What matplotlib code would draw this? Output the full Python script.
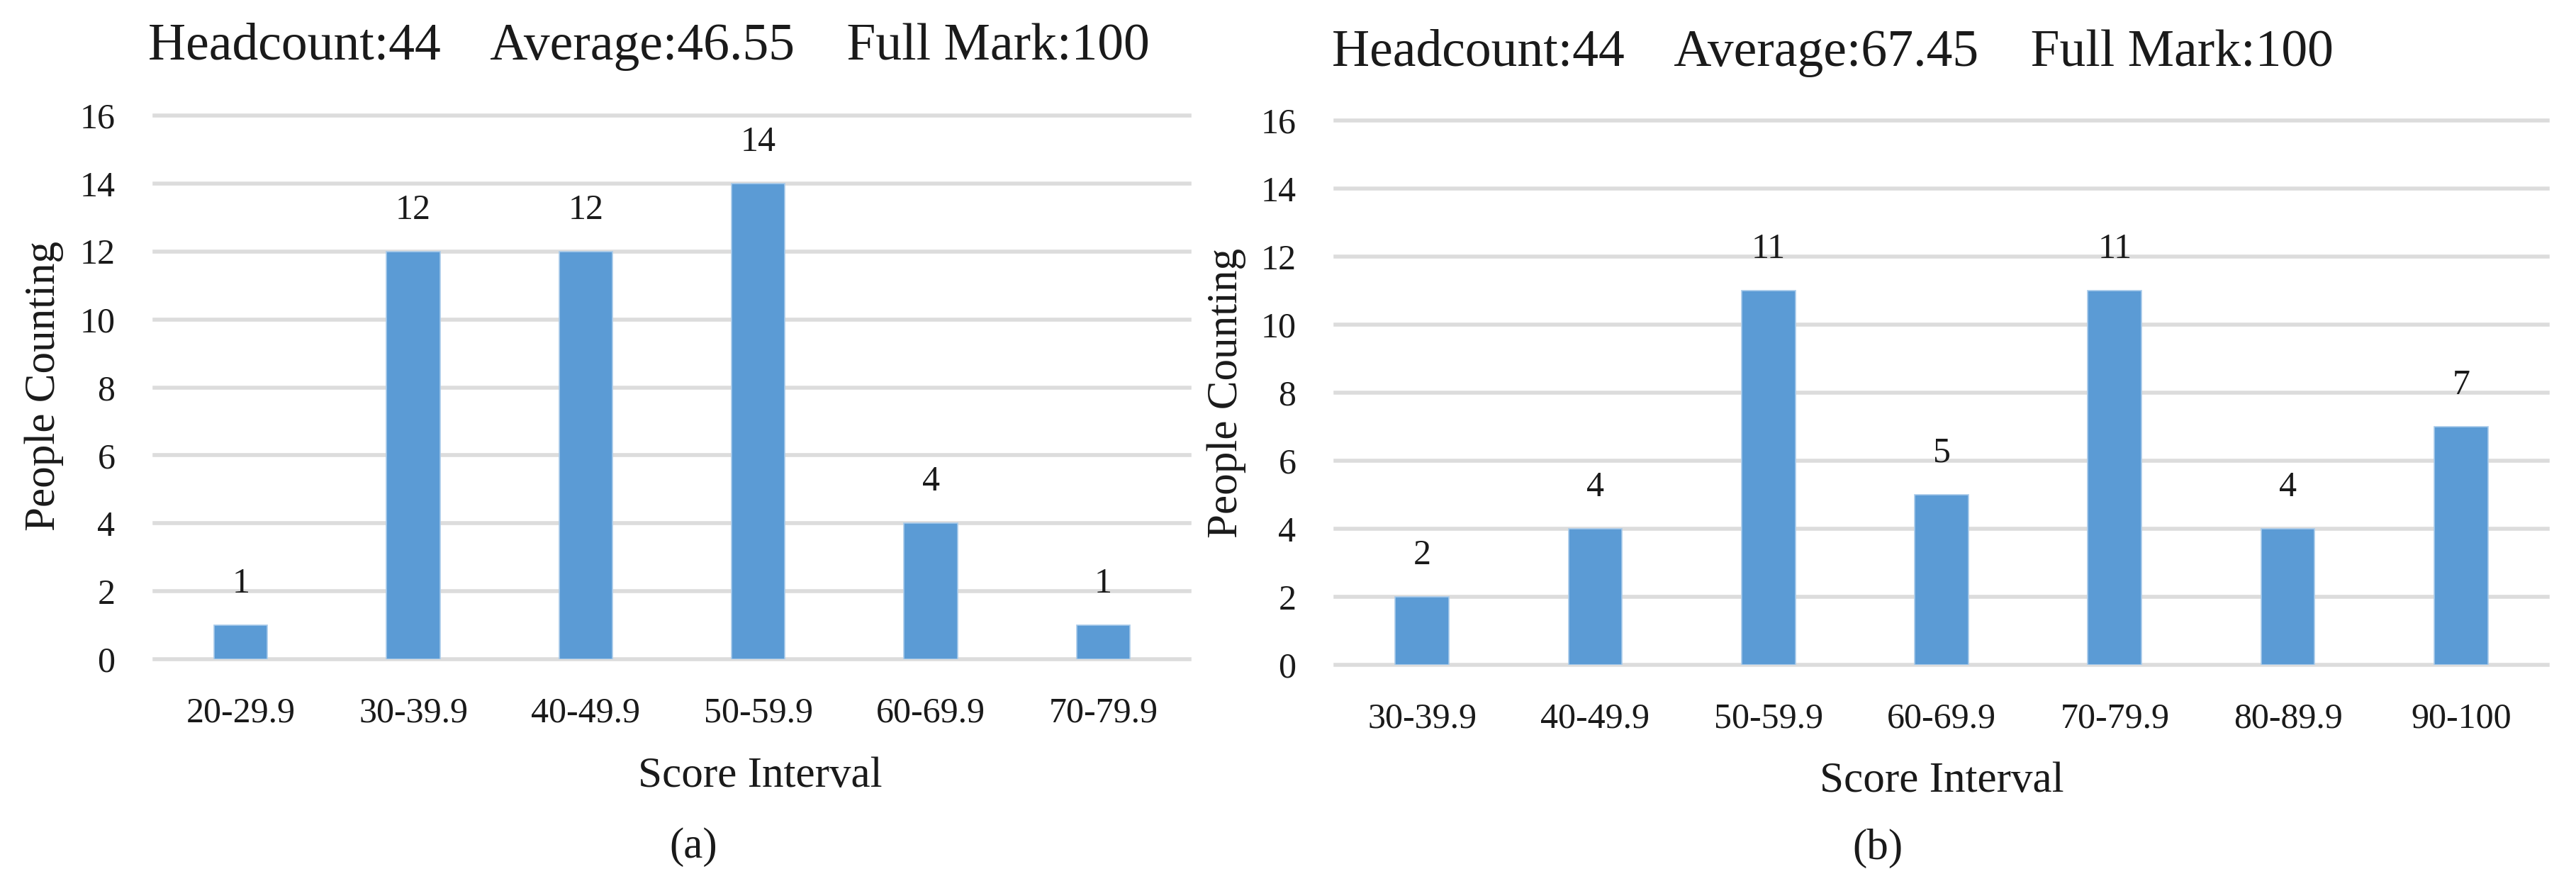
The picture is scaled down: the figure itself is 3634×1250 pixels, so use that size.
import matplotlib
matplotlib.use("Agg")
import matplotlib.pyplot as plt

# Data
left_bins = ["20-29.9", "30-39.9", "40-49.9", "50-59.9", "60-69.9", "70-79.9"]
left_counts = [1, 12, 12, 14, 4, 1]

right_bins = ["30-39.9", "40-49.9", "50-59.9", "60-69.9", "70-79.9", "80-89.9", "90-100"]
right_counts = [2, 4, 11, 5, 11, 4, 7]

headcount = [44, 44]
averages = [46.55, 67.45]
full_mark = [100, 100]
captions = ["(a)", "(b)"]

plt.rcParams['font.family'] = ['Liberation Serif', 'DejaVu Serif']

W, H = 3634, 1250
fig = plt.figure(figsize=(W / 100, H / 100), dpi=100)

BAR_COLOR = '#5B9BD5'
GRID_COLOR = '#DCDCDC'
TEXT_COLOR = '#1a1a1a'


def fx(x):
    return x / W


def fy(y):
    return 1 - y / H


def draw_panel(rect, bins, counts, idx, title_xy, xlabel_xy, ylabel_xy, caption_xy):
    # rect in pixels: left, right, y of zero line, y of top (16)
    x0, x1, y0, y1 = rect
    ax = fig.add_axes([fx(x0), fy(y0), fx(x1) - fx(x0), fy(y1) - fy(y0)])

    pos = list(range(len(bins)))
    bars = ax.bar(pos, counts, width=0.31, color=BAR_COLOR,
                  edgecolor='#A9CBEA', linewidth=1.2, zorder=3)

    # value labels above the bars
    for b, v in zip(bars, counts):
        ax.annotate(str(v), (b.get_x() + b.get_width() / 2, v),
                    xytext=(0, 42), textcoords='offset points',
                    ha='center', va='center', fontsize=36, color=TEXT_COLOR)

    ax.set_xlim(-0.5, len(bins) - 0.5)
    ax.set_ylim(0, 16)
    ax.set_yticks(range(0, 17, 2))
    ax.set_xticks(pos)
    ax.set_xticklabels(bins)
    ax.tick_params(axis='both', length=0, labelsize=36, colors=TEXT_COLOR)
    ax.tick_params(axis='x', pad=38)
    ax.tick_params(axis='y', pad=40)

    for s in ax.spines.values():
        s.set_visible(False)
    ax.yaxis.grid(True, color=GRID_COLOR, linewidth=4)
    for gl in ax.get_ygridlines():
        gl.set_clip_on(False)
    ax.set_axisbelow(True)

    title = f"Headcount:{headcount[idx]}    Average:{averages[idx]:.2f}    Full Mark:{full_mark[idx]}"
    fig.text(fx(title_xy[0]), fy(title_xy[1]), title, ha='center', va='center',
             fontsize=53, color=TEXT_COLOR)
    fig.text(fx(xlabel_xy[0]), fy(xlabel_xy[1]), "Score Interval", ha='center', va='center',
             fontsize=44, color=TEXT_COLOR)
    fig.text(fx(ylabel_xy[0]), fy(ylabel_xy[1]), "People Counting", ha='center', va='center',
             rotation=90, fontsize=44, color=TEXT_COLOR)
    fig.text(fx(caption_xy[0]), fy(caption_xy[1]), captions[idx], ha='center', va='center',
             fontsize=44, color=TEXT_COLOR)
    return ax


draw_panel((218, 1678, 930, 163), left_bins, left_counts, 0,
           (915, 66), (1072, 1095), (62, 545), (978, 1195))
draw_panel((1884, 3594, 938, 170), right_bins, right_counts, 1,
           (2585, 75), (2739, 1102), (1730, 555), (2649, 1197))

fig.savefig("out.png", dpi=100, facecolor='white')
